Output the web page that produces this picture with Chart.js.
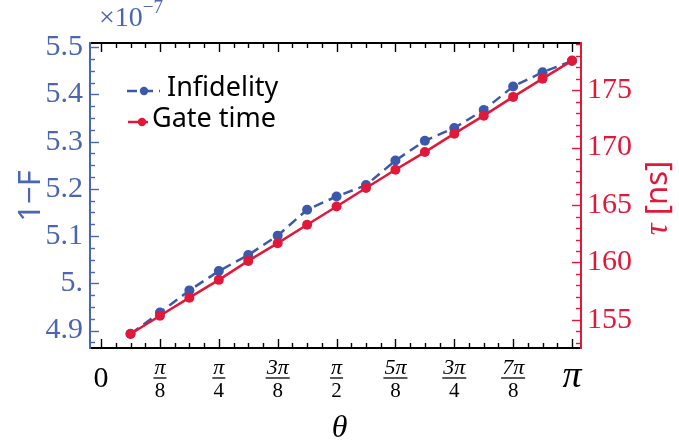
<!DOCTYPE html>
<html lang="en">
<head>
<meta charset="UTF-8">
<title>Infidelity and gate time vs theta</title>
<script src="https://cdn.jsdelivr.net/npm/chart.js"></script>
<style>
  body { margin: 0; background: #fff; }
  #wrap { width: 679px; height: 446px; }
</style>
</head>
<body>
<div id="wrap"><canvas id="chart" width="679" height="446"></canvas></div>
<script>
// theta in units of pi/16
var thetaSteps = [1, 2, 3, 4, 5, 6, 7, 8, 9, 10, 11, 12, 13, 14, 15, 16];
// 1-F, in units of 1e-7
var infidelity = [4.893, 4.938, 4.985, 5.026, 5.060, 5.101, 5.156, 5.184, 5.208, 5.260, 5.302, 5.329, 5.367, 5.417, 5.447, 5.471];
// gate time, ns
var gateTime = [153.78, 155.37, 156.94, 158.49, 160.14, 161.68, 163.28, 164.87, 166.48, 168.07, 169.61, 171.21, 172.78, 174.41, 176.00, 177.57];

// tick labels
var xTickPi = [0, 1/8, 1/4, 3/8, 1/2, 5/8, 3/4, 7/8, 1];
var xTickNum = ['0', 'π', 'π', '3π', 'π', '5π', '3π', '7π', 'π'];
var xTickDen = ['', '8', '4', '8', '2', '8', '4', '8', ''];
var leftTicks = [4.9, 5.0, 5.1, 5.2, 5.3, 5.4, 5.5];
var leftLabels = ['4.9', '5.', '5.1', '5.2', '5.3', '5.4', '5.5'];
var rightTicks = [155, 160, 165, 170, 175];
var rightLabels = ['155', '160', '165', '170', '175'];

var BLUE = '#3c58aa';
var BLUE_AX = '#4a66b3';
var RED = '#e2183a';
var SERIF = '"Liberation Serif", "DejaVu Serif", serif';
var SANS = '"Noto Sans", "DejaVu Sans", sans-serif';

var xs = thetaSteps.map(function (k) { return k * Math.PI / 16; });

// axes, inward ticks, x labels, titles and legend
var decor = {
    id: 'decor',
    afterDraw: function (chart) {
        var ctx = chart.ctx;
        var a = chart.chartArea;
        var x = chart.scales.x, y = chart.scales.y, y1 = chart.scales.y1;
        ctx.save();

        // x ticks (top and bottom), minor every pi/32
        ctx.strokeStyle = '#000';
        ctx.lineWidth = 1.4;
        for (var k = 0; k <= 32; k++) {
            var px = Math.round(x.getPixelForValue(k * Math.PI / 32)) + 0.5;
            var len = (k % 4 === 0) ? 9 : 5;
            ctx.beginPath();
            ctx.moveTo(px, a.bottom); ctx.lineTo(px, a.bottom - len);
            ctx.moveTo(px, a.top); ctx.lineTo(px, a.top + len);
            ctx.stroke();
        }
        // left ticks
        ctx.strokeStyle = BLUE_AX;
        for (var i = 0; i <= 25; i++) {
            var v = 4.875 + i * 0.025;
            if (v > y.max) break;
            var py = Math.round(y.getPixelForValue(v)) + 0.5;
            var l2 = (i % 4 === 1) ? 9 : 5;
            ctx.beginPath(); ctx.moveTo(a.left, py); ctx.lineTo(a.left + l2, py); ctx.stroke();
        }
        // right ticks
        ctx.strokeStyle = RED;
        for (var t = 153; t <= y1.max; t++) {
            var py2 = Math.round(y1.getPixelForValue(t)) + 0.5;
            var l3 = (t % 5 === 0) ? 9 : 5;
            ctx.beginPath(); ctx.moveTo(a.right, py2); ctx.lineTo(a.right - l3, py2); ctx.stroke();
        }

        // frame
        ctx.lineWidth = 2;
        ctx.strokeStyle = '#000';
        ctx.beginPath();
        ctx.moveTo(a.left, a.top); ctx.lineTo(a.right, a.top);
        ctx.moveTo(a.left, a.bottom); ctx.lineTo(a.right, a.bottom);
        ctx.stroke();
        ctx.strokeStyle = BLUE_AX;
        ctx.beginPath(); ctx.moveTo(a.left, a.top - 1); ctx.lineTo(a.left, a.bottom + 1); ctx.stroke();
        ctx.strokeStyle = RED;
        ctx.beginPath(); ctx.moveTo(a.right, a.top - 1); ctx.lineTo(a.right, a.bottom + 1); ctx.stroke();

        // x tick labels
        ctx.fillStyle = '#000';
        ctx.textAlign = 'center';
        ctx.textBaseline = 'alphabetic';
        xTickPi.forEach(function (f, j) {
            var cx = x.getPixelForValue(f * Math.PI);
            if (xTickDen[j] === '') {
                ctx.font = (xTickNum[j] === 'π' ? 'italic 38px ' : '30px ') + SERIF;
                ctx.fillText(xTickNum[j], cx, 387);
            } else {
                ctx.font = 'italic 22px ' + SERIF;
                var wn = ctx.measureText(xTickNum[j]).width;
                ctx.fillText(xTickNum[j], cx, 374);
                ctx.font = '21px ' + SERIF;
                var wd = ctx.measureText(xTickDen[j]).width;
                ctx.fillText(xTickDen[j], cx, 397);
                var w = Math.max(wn, wd) + 2;
                ctx.lineWidth = 1.3;
                ctx.strokeStyle = '#000';
                ctx.beginPath(); ctx.moveTo(cx - w / 2, 378); ctx.lineTo(cx + w / 2, 378); ctx.stroke();
            }
        });

        // x title
        ctx.font = 'italic 32px ' + SERIF;
        ctx.fillText('θ', (a.left + a.right) / 2 + 4, 437);

        // exponent
        ctx.fillStyle = BLUE_AX;
        ctx.textAlign = 'left';
        ctx.font = '28px ' + SERIF;
        ctx.fillText('×10', 99, 26);
        var ew = ctx.measureText('×10').width;
        ctx.font = '19px ' + SERIF;
        ctx.fillText('−7', 99 + ew, 13);

        // left title
        ctx.save();
        ctx.translate(40, 196);
        ctx.rotate(-Math.PI / 2);
        ctx.textAlign = 'center';
        ctx.font = '31px ' + SANS;
        ctx.fillText('1−F', 0, 0);
        ctx.restore();

        // right title
        ctx.save();
        ctx.translate(656, 198);
        ctx.rotate(-Math.PI / 2);
        ctx.fillStyle = RED;
        ctx.font = 'italic 33px ' + SERIF;
        var tw = ctx.measureText('τ ').width;
        ctx.font = '31px ' + SANS;
        var nw = ctx.measureText('[ns]').width;
        var sx = -(tw + nw) / 2;
        ctx.textAlign = 'left';
        ctx.font = 'italic 33px ' + SERIF;
        ctx.fillText('τ ', sx, 11);
        ctx.font = '31px ' + SANS;
        ctx.fillText('[ns]', sx + tw, 11);
        ctx.restore();

        // legend
        var ds = chart.data.datasets;
        var rows = [
            { d: ds[1], y: 91, x0: 127, x1: 160, dot: 144, tx: 167, base: 96 },
            { d: ds[0], y: 122, x0: 128, x1: 148, dot: 142, tx: 152, base: 127 }
        ];
        rows.forEach(function (r) {
            ctx.strokeStyle = r.d.borderColor;
            ctx.lineWidth = r.d.borderWidth;
            ctx.setLineDash(r.d.borderDash || []);
            ctx.beginPath(); ctx.moveTo(r.x0, r.y); ctx.lineTo(r.x1, r.y); ctx.stroke();
            ctx.setLineDash([]);
            ctx.fillStyle = r.d.pointBackgroundColor;
            ctx.beginPath(); ctx.arc(r.dot, r.y, 4.2, 0, Math.PI * 2); ctx.fill();
            ctx.fillStyle = '#000';
            ctx.font = '27px ' + SANS;
            ctx.textAlign = 'left';
            ctx.fillText(r.d.label, r.tx, r.base);
        });

        ctx.restore();
    }
};

new Chart(document.getElementById('chart'), {
    type: 'line',
    data: {
        datasets: [{
            label: 'Gate time',
            data: xs.map(function (v, i) { return { x: v, y: gateTime[i] }; }),
            yAxisID: 'y1',
            borderColor: RED,
            backgroundColor: RED,
            pointBackgroundColor: RED,
            pointBorderWidth: 0,
            pointRadius: 5,
            borderWidth: 2.5,
            order: 0
        }, {
            label: 'Infidelity',
            data: xs.map(function (v, i) { return { x: v, y: infidelity[i] }; }),
            yAxisID: 'y',
            borderColor: BLUE,
            backgroundColor: BLUE,
            pointBackgroundColor: BLUE,
            pointBorderWidth: 0,
            pointRadius: 5,
            borderWidth: 2.5,
            borderDash: [10, 6],
            order: 1
        }]
    },
    options: {
        responsive: false,
        animation: false,
        layout: { padding: { top: 43, left: 0, right: 0, bottom: 0 } },
        plugins: { legend: { display: false }, tooltip: { enabled: false } },
        scales: {
            x: {
                type: 'linear',
                min: -0.074,
                max: 3.2016,
                grid: { display: false, drawTicks: false },
                border: { display: false },
                ticks: { display: false },
                afterFit: function (s) { s.height = 98; }
            },
            y: {
                position: 'left',
                min: 4.863,
                max: 5.509,
                grid: { display: false, drawTicks: false },
                border: { display: false },
                afterBuildTicks: function (s) { s.ticks = leftTicks.map(function (v) { return { value: v }; }); },
                ticks: {
                    padding: 7,
                    color: BLUE_AX,
                    font: { family: SERIF, size: 30 },
                    callback: function (v, i) { return leftLabels[i]; }
                },
                afterFit: function (s) { s.width = 90; }
            },
            y1: {
                position: 'right',
                min: 152.56,
                max: 179.1,
                grid: { display: false, drawTicks: false },
                border: { display: false },
                afterBuildTicks: function (s) { s.ticks = rightTicks.map(function (v) { return { value: v }; }); },
                ticks: {
                    padding: 6,
                    color: RED,
                    font: { family: SERIF, size: 30 },
                    callback: function (v, i) { return rightLabels[i]; }
                },
                afterFit: function (s) { s.width = 98; }
            }
        }
    },
    plugins: [decor]
});
</script>
</body>
</html>
